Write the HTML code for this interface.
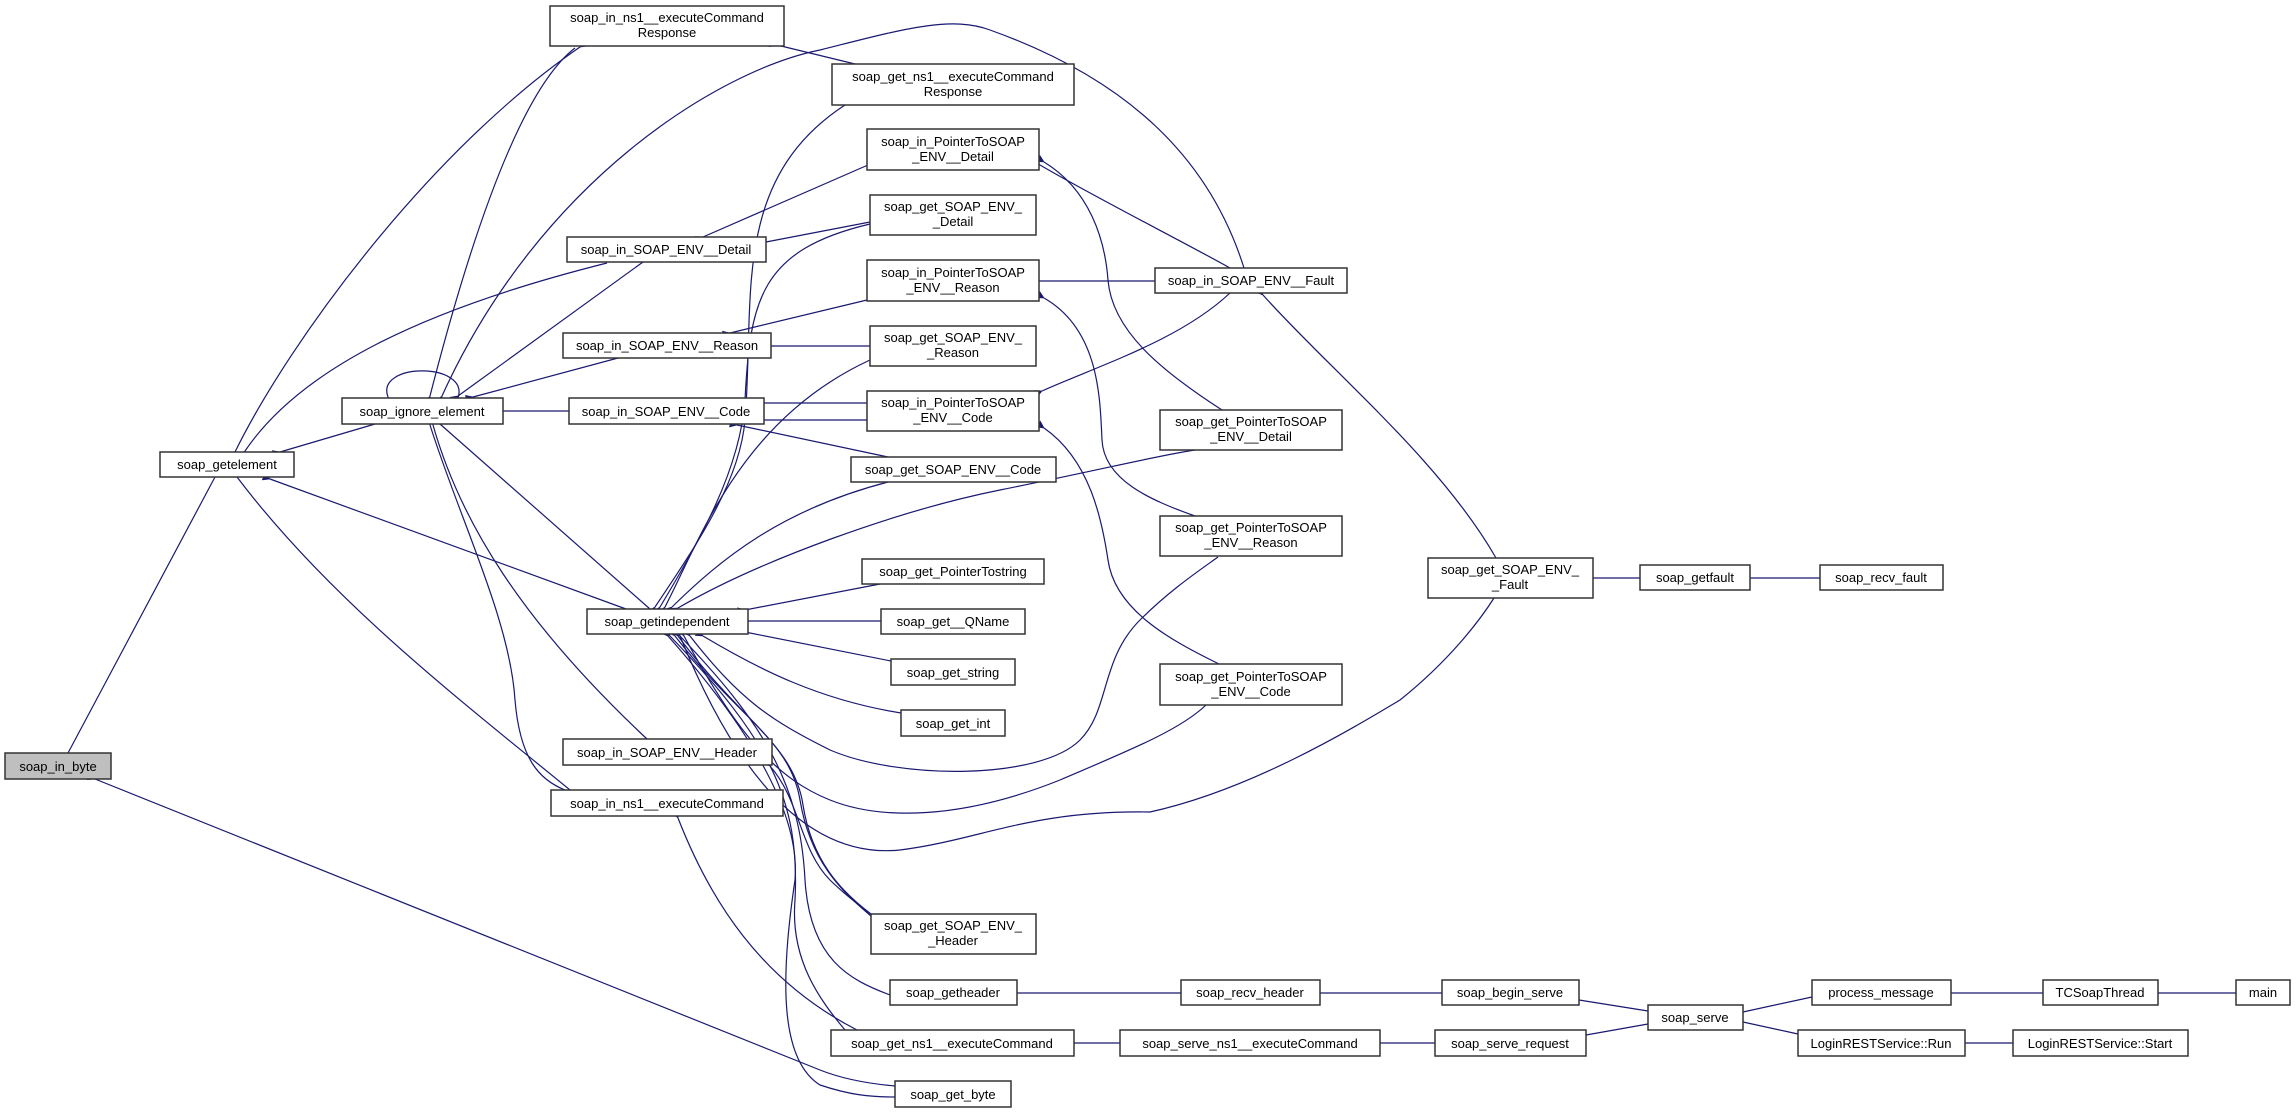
<!DOCTYPE html>
<html><head><meta charset="utf-8"><style>
html,body{margin:0;padding:0;background:#fff;}
svg{display:block;}
text{font-family:"Liberation Sans",sans-serif;font-size:13px;fill:#000;}
.e{fill:none;stroke:#191970;stroke-width:1.2;marker-start:url(#a);}
.n{fill:#fff;stroke:#333;stroke-width:1.5;}
</style></head><body>
<svg width="2296" height="1113" viewBox="0 0 2296 1113" xmlns="http://www.w3.org/2000/svg">
<defs><marker id="a" viewBox="0 0 10 10" refX="1" refY="5" markerWidth="9" markerHeight="8" markerUnits="userSpaceOnUse" orient="auto-start-reverse"><path d="M10,0 L0,5 L10,10 z" fill="#191970"/></marker></defs>
<g>
<path class="e" d="M68,753 L215,477"/>
<path class="e" d="M95,779 L820,1070 Q850,1082 895,1086"/>
<path class="e" d="M580,47 C430,150 290,340 235,452"/>
<path class="e" d="M430,396 C470,240 520,90 575,48"/>
<path class="e" d="M442,396 C540,180 720,70 820,50 C900,30 950,15 990,30 C1130,80 1210,160 1244,268"/>
<path class="e" d="M777,45 L855,64"/>
<path class="e" d="M388,397 C375,362 470,362 458,398"/>
<path class="e" d="M280,452 L375,424"/>
<path class="e" d="M245,451 C300,370 420,310 607,263"/>
<path class="e" d="M458,396 L643,262"/>
<path class="e" d="M473,397 L618,358"/>
<path class="e" d="M503,411 L569,411"/>
<path class="e" d="M270,479 L626,609"/>
<path class="e" d="M570,790 C460,700 330,600 237,477"/>
<path class="e" d="M440,424 L650,609"/>
<path class="e" d="M433,425 C460,520 520,620 647,739"/>
<path class="e" d="M430,425 C460,520 510,620 515,700 C520,760 540,780 565,790"/>
<path class="e" d="M703,237 L868,165"/>
<path class="e" d="M766,242 L870,222"/>
<path class="e" d="M730,333 L867,300"/>
<path class="e" d="M771,346 L870,346"/>
<path class="e" d="M867,403 L764,403"/>
<path class="e" d="M764,420 L867,420"/>
<path class="e" d="M737,425 L888,457"/>
<path class="e" d="M1040,165 C1100,200 1180,240 1230,268"/>
<path class="e" d="M1044,162 C1090,190 1105,240 1108,280 C1112,330 1160,370 1222,410"/>
<path class="e" d="M1039,281 L1155,281"/>
<path class="e" d="M1044,298 C1100,330 1100,400 1102,440 C1104,480 1150,500 1195,516"/>
<path class="e" d="M1042,391 C1100,365 1180,340 1230,293"/>
<path class="e" d="M1044,428 C1090,460 1102,520 1108,560 C1115,610 1170,640 1219,664"/>
<path class="e" d="M1263,295 C1330,370 1440,460 1496,558"/>
<path class="e" d="M1593,578 L1640,578"/>
<path class="e" d="M1750,578 L1820,578"/>
<path class="e" d="M1017,993 L1181,993"/>
<path class="e" d="M1320,993 L1442,993"/>
<path class="e" d="M1579,1000 L1648,1011"/>
<path class="e" d="M1074,1043 L1120,1043"/>
<path class="e" d="M1380,1043 L1435,1043"/>
<path class="e" d="M1586,1035 L1648,1024"/>
<path class="e" d="M1743,1012 L1812,997"/>
<path class="e" d="M1743,1022 L1798,1034"/>
<path class="e" d="M1951,993 L2043,993"/>
<path class="e" d="M2158,993 L2236,993"/>
<path class="e" d="M1965,1043 L2013,1043"/>
<path class="e" d="M678,818 C710,900 760,980 857,1030"/>
<path class="e" d="M770,766 C800,800 800,850 830,880 C845,895 860,905 871,916"/>
<path class="e" d="M655,607 C700,540 740,480 745,420 C755,300 730,180 845,105"/>
<path class="e" d="M660,607 C700,540 740,470 745,400 C750,300 760,250 870,224"/>
<path class="e" d="M665,607 C700,540 740,420 870,360"/>
<path class="e" d="M672,607 C720,560 780,510 888,482"/>
<path class="e" d="M678,608 C760,560 900,510 1000,490 C1100,470 1160,455 1195,450"/>
<path class="e" d="M745,610 L880,584"/>
<path class="e" d="M748,621 L881,621"/>
<path class="e" d="M745,632 L891,661"/>
<path class="e" d="M703,636 C760,670 820,700 901,713"/>
<path class="e" d="M690,636 C740,700 770,720 830,750 C900,780 1040,780 1080,740 C1110,710 1100,660 1140,620 C1170,590 1200,570 1218,557"/>
<path class="e" d="M684,636 C740,740 780,780 830,800 C880,820 960,820 1060,780 C1130,750 1180,730 1206,705"/>
<path class="e" d="M680,636 C730,760 800,860 900,850 C980,840 1030,810 1150,812 C1250,790 1350,730 1400,700 C1450,660 1480,620 1494,598"/>
<path class="e" d="M675,636 C740,720 790,740 800,800 C810,860 840,890 871,916"/>
<path class="e" d="M678,636 C742,722 794,745 803,805 C812,862 842,892 871,914"/>
<path class="e" d="M680,636 C760,720 800,780 805,880 C810,960 850,980 890,995"/>
<path class="e" d="M670,636 C770,740 800,800 795,900 C790,960 820,1000 845,1030"/>
<path class="e" d="M668,636 C760,740 800,820 795,880 C780,980 780,1060 820,1085 C850,1095 870,1097 895,1097"/>
</g>
<g>
<rect x="5" y="753" width="106" height="26" fill="#bfbfbf" stroke="#333" stroke-width="1.5"/><text x="58" y="771" text-anchor="middle">soap_in_byte</text>
<rect class="n" x="160" y="452" width="134" height="25"/><text x="227" y="469" text-anchor="middle">soap_getelement</text>
<rect class="n" x="342" y="398" width="161" height="26"/><text x="422" y="416" text-anchor="middle">soap_ignore_element</text>
<rect class="n" x="550" y="6" width="234" height="40"/><text x="667" y="22" text-anchor="middle">soap_in_ns1__executeCommand</text><text x="667" y="37" text-anchor="middle">Response</text>
<rect class="n" x="567" y="237" width="199" height="25"/><text x="666" y="254" text-anchor="middle">soap_in_SOAP_ENV__Detail</text>
<rect class="n" x="563" y="333" width="208" height="25"/><text x="667" y="350" text-anchor="middle">soap_in_SOAP_ENV__Reason</text>
<rect class="n" x="569" y="398" width="195" height="26"/><text x="666" y="416" text-anchor="middle">soap_in_SOAP_ENV__Code</text>
<rect class="n" x="587" y="609" width="161" height="25"/><text x="667" y="626" text-anchor="middle">soap_getindependent</text>
<rect class="n" x="563" y="739" width="209" height="26"/><text x="667" y="757" text-anchor="middle">soap_in_SOAP_ENV__Header</text>
<rect class="n" x="551" y="790" width="232" height="26"/><text x="667" y="808" text-anchor="middle">soap_in_ns1__executeCommand</text>
<rect class="n" x="832" y="64" width="242" height="41"/><text x="953" y="81" text-anchor="middle">soap_get_ns1__executeCommand</text><text x="953" y="96" text-anchor="middle">Response</text>
<rect class="n" x="867" y="129" width="172" height="41"/><text x="953" y="146" text-anchor="middle">soap_in_PointerToSOAP</text><text x="953" y="161" text-anchor="middle">_ENV__Detail</text>
<rect class="n" x="870" y="195" width="166" height="40"/><text x="953" y="211" text-anchor="middle">soap_get_SOAP_ENV_</text><text x="953" y="226" text-anchor="middle">_Detail</text>
<rect class="n" x="867" y="260" width="172" height="41"/><text x="953" y="277" text-anchor="middle">soap_in_PointerToSOAP</text><text x="953" y="292" text-anchor="middle">_ENV__Reason</text>
<rect class="n" x="870" y="326" width="166" height="40"/><text x="953" y="342" text-anchor="middle">soap_get_SOAP_ENV_</text><text x="953" y="357" text-anchor="middle">_Reason</text>
<rect class="n" x="867" y="391" width="172" height="40"/><text x="953" y="407" text-anchor="middle">soap_in_PointerToSOAP</text><text x="953" y="422" text-anchor="middle">_ENV__Code</text>
<rect class="n" x="851" y="457" width="205" height="25"/><text x="953" y="474" text-anchor="middle">soap_get_SOAP_ENV__Code</text>
<rect class="n" x="862" y="559" width="182" height="25"/><text x="953" y="576" text-anchor="middle">soap_get_PointerTostring</text>
<rect class="n" x="881" y="609" width="144" height="25"/><text x="953" y="626" text-anchor="middle">soap_get__QName</text>
<rect class="n" x="891" y="659" width="124" height="26"/><text x="953" y="677" text-anchor="middle">soap_get_string</text>
<rect class="n" x="901" y="710" width="104" height="26"/><text x="953" y="728" text-anchor="middle">soap_get_int</text>
<rect class="n" x="871" y="914" width="165" height="40"/><text x="953" y="930" text-anchor="middle">soap_get_SOAP_ENV_</text><text x="953" y="945" text-anchor="middle">_Header</text>
<rect class="n" x="890" y="980" width="127" height="25"/><text x="953" y="997" text-anchor="middle">soap_getheader</text>
<rect class="n" x="831" y="1030" width="243" height="26"/><text x="952" y="1048" text-anchor="middle">soap_get_ns1__executeCommand</text>
<rect class="n" x="895" y="1081" width="116" height="26"/><text x="953" y="1099" text-anchor="middle">soap_get_byte</text>
<rect class="n" x="1155" y="268" width="192" height="25"/><text x="1251" y="285" text-anchor="middle">soap_in_SOAP_ENV__Fault</text>
<rect class="n" x="1160" y="410" width="182" height="40"/><text x="1251" y="426" text-anchor="middle">soap_get_PointerToSOAP</text><text x="1251" y="441" text-anchor="middle">_ENV__Detail</text>
<rect class="n" x="1160" y="516" width="182" height="40"/><text x="1251" y="532" text-anchor="middle">soap_get_PointerToSOAP</text><text x="1251" y="547" text-anchor="middle">_ENV__Reason</text>
<rect class="n" x="1160" y="664" width="182" height="41"/><text x="1251" y="681" text-anchor="middle">soap_get_PointerToSOAP</text><text x="1251" y="696" text-anchor="middle">_ENV__Code</text>
<rect class="n" x="1428" y="558" width="165" height="40"/><text x="1510" y="574" text-anchor="middle">soap_get_SOAP_ENV_</text><text x="1510" y="589" text-anchor="middle">_Fault</text>
<rect class="n" x="1640" y="565" width="110" height="25"/><text x="1695" y="582" text-anchor="middle">soap_getfault</text>
<rect class="n" x="1820" y="565" width="123" height="25"/><text x="1881" y="582" text-anchor="middle">soap_recv_fault</text>
<rect class="n" x="1181" y="980" width="139" height="25"/><text x="1250" y="997" text-anchor="middle">soap_recv_header</text>
<rect class="n" x="1442" y="980" width="137" height="25"/><text x="1510" y="997" text-anchor="middle">soap_begin_serve</text>
<rect class="n" x="1120" y="1030" width="260" height="26"/><text x="1250" y="1048" text-anchor="middle">soap_serve_ns1__executeCommand</text>
<rect class="n" x="1435" y="1030" width="151" height="26"/><text x="1510" y="1048" text-anchor="middle">soap_serve_request</text>
<rect class="n" x="1648" y="1005" width="95" height="25"/><text x="1695" y="1022" text-anchor="middle">soap_serve</text>
<rect class="n" x="1812" y="980" width="139" height="25"/><text x="1881" y="997" text-anchor="middle">process_message</text>
<rect class="n" x="2043" y="980" width="115" height="25"/><text x="2100" y="997" text-anchor="middle">TCSoapThread</text>
<rect class="n" x="2236" y="980" width="54" height="25"/><text x="2263" y="997" text-anchor="middle">main</text>
<rect class="n" x="1798" y="1030" width="167" height="26"/><text x="1881" y="1048" text-anchor="middle">LoginRESTService::Run</text>
<rect class="n" x="2013" y="1030" width="175" height="26"/><text x="2100" y="1048" text-anchor="middle">LoginRESTService::Start</text>
</g>
</svg>
</body></html>
